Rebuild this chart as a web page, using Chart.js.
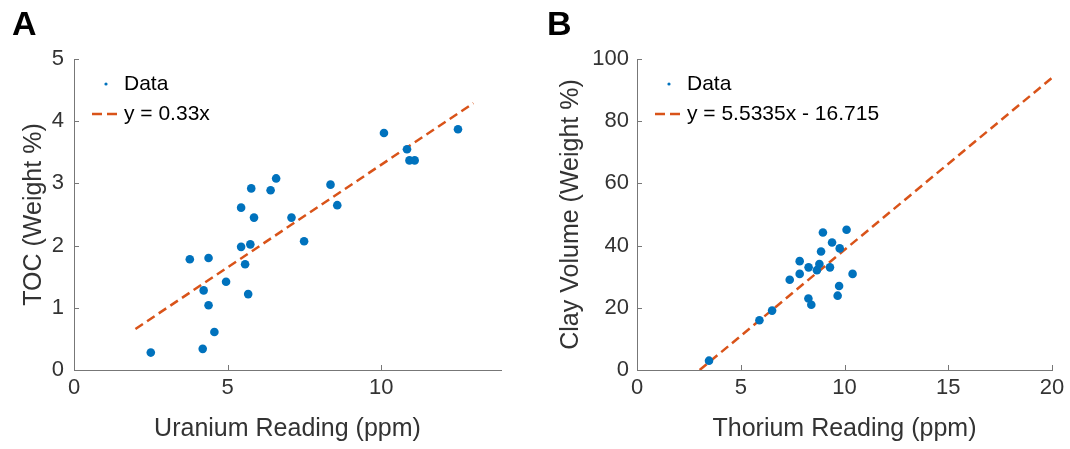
<!DOCTYPE html>
<html>
<head>
<meta charset="utf-8">
<script src="https://cdn.jsdelivr.net/npm/chart.js@4"></script>
<style>
  body { margin: 0; background: #fff; }
  .panel { position: absolute; top: 0; width: 535px; height: 449px; }
  .letter { position: absolute; top: 4px; font: bold 34px "Liberation Sans", Arial, sans-serif; color: #000; }
</style>
</head>
<body>
<div class="panel" style="left:0"><canvas id="chartA"></canvas></div>
<div class="panel" style="left:535px"><canvas id="chartB"></canvas></div>
<div class="letter" style="left:12px">A</div>
<div class="letter" style="left:547px">B</div>
<script>
// panel A: uranium vs TOC
var uranium = [2.50, 3.77, 4.38, 4.22, 4.38, 4.19, 4.57, 4.95, 5.44, 5.44, 5.57, 5.74, 5.77,
               5.86, 5.67, 6.40, 6.58, 7.08, 7.49, 8.35, 8.57, 10.09, 10.84, 10.92, 11.09, 12.50];
var toc = [0.28, 1.78, 1.80, 1.28, 1.04, 0.34, 0.61, 1.42, 2.61, 1.98, 1.70, 2.02, 2.92,
           2.45, 1.22, 2.89, 3.08, 2.45, 2.07, 2.98, 2.65, 3.81, 3.55, 3.37, 3.37, 3.87];
var fitAx = [2, 13];
var fitAy = [0.66, 4.29];

// panel B: thorium vs clay volume
var thorium = [3.47, 5.90, 6.51, 7.36, 7.84, 7.84, 8.27, 8.26, 8.40, 8.67,
               8.79, 8.87, 8.96, 9.30, 9.40, 9.77, 9.74, 9.67, 10.10, 10.39];
var clay = [3.0, 16.0, 19.1, 29.0, 35.0, 30.9, 33.0, 23.0, 21.0, 32.1,
            34.1, 38.1, 44.2, 33.0, 41.0, 39.1, 27.0, 23.9, 45.1, 30.9];
var fitBx = [3.02, 20];
var fitBy = [0, 93.96];

var blue = '#0072BD';
var orange = '#D95319';
var ink = '#333';
var fontName = '"Liberation Sans", Arial, sans-serif';

function pts(xs, ys) {
    return xs.map(function (x, i) { return { x: x, y: ys[i] }; });
}

// MATLAB style inward tick marks
var innerTicks = {
    id: 'innerTicks',
    afterDraw: function (chart) {
        var ctx = chart.ctx;
        var xs = chart.scales.x, ys = chart.scales.y;
        ctx.save();
        ctx.strokeStyle = '#777';
        ctx.lineWidth = 1;
        ctx.beginPath();
        xs.ticks.forEach(function (t) {
            var px = Math.round(xs.getPixelForValue(t.value)) + 0.5;
            ctx.moveTo(px, xs.top);
            ctx.lineTo(px, xs.top - 5);
        });
        ys.ticks.forEach(function (t) {
            var py = Math.round(ys.getPixelForValue(t.value)) + 0.5;
            ctx.moveTo(ys.right, py);
            ctx.lineTo(ys.right + 5, py);
        });
        ctx.stroke();
        ctx.restore();
    }
};

// legend drawn in the top-left of the plot area
var insideLegend = {
    id: 'insideLegend',
    afterDraw: function (chart) {
        var ctx = chart.ctx;
        var a = chart.chartArea;
        var labels = chart.options.plugins.insideLegend.labels;
        ctx.save();
        ctx.font = '21px ' + fontName;
        ctx.textBaseline = 'middle';
        ctx.fillStyle = blue;
        ctx.beginPath();
        ctx.arc(a.left + 32, a.top + 25, 1.6, 0, Math.PI * 2);
        ctx.fill();
        ctx.strokeStyle = orange;
        ctx.lineWidth = 2.5;
        ctx.setLineDash([10, 5]);
        ctx.beginPath();
        ctx.moveTo(a.left + 18, a.top + 55);
        ctx.lineTo(a.left + 43, a.top + 55);
        ctx.stroke();
        ctx.setLineDash([]);
        ctx.fillStyle = '#000';
        ctx.fillText(labels[0], a.left + 50, a.top + 25);
        ctx.fillText(labels[1], a.left + 50, a.top + 55);
        ctx.restore();
    }
};

function makeChart(id, xs, ys, fx, fy, opt) {
    var ctx = document.getElementById(id).getContext('2d');
    return new Chart(ctx, {
        type: 'scatter',
        data: {
            datasets: [
                {
                    data: pts(xs, ys),
                    backgroundColor: blue,
                    borderWidth: 0,
                    pointRadius: 4.3,
                    pointHoverRadius: 4.3,
                },
                {
                    type: 'line',
                    data: pts(fx, fy),
                    borderColor: orange,
                    borderWidth: 2.5,
                    borderDash: [9, 5],
                    pointRadius: 0,
                    fill: false,
                },
            ],
        },
        options: {
            responsive: true,
            maintainAspectRatio: false,
            animation: false,
            events: [],
            layout: { padding: { top: 59, right: opt.padRight, left: 0, bottom: 0 } },
            plugins: {
                legend: { display: false },
                tooltip: { enabled: false },
                insideLegend: { labels: opt.legend },
            },
            scales: {
                x: {
                    type: 'linear',
                    min: 0,
                    max: opt.xMax,
                    afterFit: function (s) { s.height = 79; },
                    grid: { display: false, drawTicks: false },
                    border: { color: '#777' },
                    ticks: { stepSize: opt.xStep, includeBounds: false, padding: 5, color: ink, font: { size: 22, family: fontName } },
                    title: { display: true, text: opt.xTitle, color: ink, padding: { top: 0, bottom: 5 }, font: { size: 25, family: fontName } },
                },
                y: {
                    min: 0,
                    max: opt.yMax,
                    afterFit: function (s) { s.width = opt.yWidth; },
                    grid: { display: false, drawTicks: false },
                    border: { color: '#777' },
                    ticks: { stepSize: opt.yStep, padding: opt.yTickPad, color: ink, font: { size: 22, family: fontName } },
                    title: { display: true, text: opt.yTitle, color: ink, padding: { top: opt.yTitlePad, bottom: 0 }, font: { size: 25, family: fontName } },
                },
            },
        },
        plugins: [innerTicks, insideLegend],
    });
}

makeChart('chartA', uranium, toc, fitAx, fitAy, {
    xMax: 13.9, xStep: 5, yMax: 5, yStep: 1,
    xTitle: 'Uranium Reading (ppm)', yTitle: 'TOC (Weight %)',
    yWidth: 74, yTickPad: 10, yTitlePad: 19, padRight: 34,
    legend: ['Data', 'y = 0.33x'],
});

makeChart('chartB', thorium, clay, fitBx, fitBy, {
    xMax: 20, xStep: 5, yMax: 100, yStep: 20,
    xTitle: 'Thorium Reading (ppm)', yTitle: 'Clay Volume (Weight %)',
    yWidth: 102, yTickPad: 8, yTitlePad: 21, padRight: 18,
    legend: ['Data', 'y = 5.5335x - 16.715'],
});
</script>
</body>
</html>
